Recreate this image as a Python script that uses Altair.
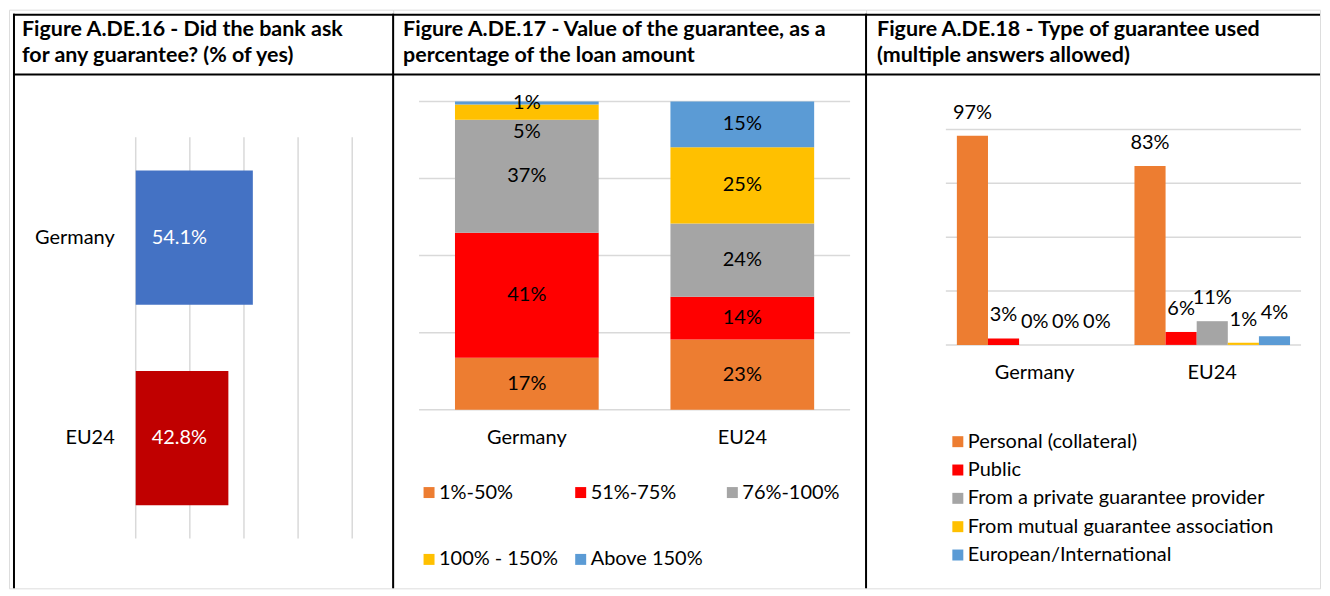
import altair as alt
import pandas as pd

FONT = "Lato"

# ---------------- data ----------------
titles_p1 = ["Figure A.DE.16 - Did the bank ask", "for any guarantee? (% of yes)"]
titles_p2 = ["Figure A.DE.17 - Value of the guarantee, as a", "percentage of the loan amount"]
titles_p3 = ["Figure A.DE.18 - Type of guarantee used", "(multiple answers allowed)"]

p1_countries = ["Germany", "EU24"]
p1_values = [54.1, 42.8]
p1_colors = ["#4472C4", "#C00000"]

p2_countries = ["Germany", "EU24"]
p2_bands = ["1%-50%", "51%-75%", "76%-100%", "100% - 150%", "Above 150%"]
p2_germany = [17, 41, 37, 5, 1]
p2_eu24 = [23, 14, 24, 25, 15]
p2_colors = ["#ED7D31", "#FF0000", "#A5A5A5", "#FFC000", "#5B9BD5"]

p3_countries = ["Germany", "EU24"]
p3_types = ["Personal (collateral)", "Public", "From a private guarantee provider",
            "From mutual guarantee association", "European/International"]
p3_germany = [97, 3, 0, 0, 0]
p3_eu24 = [83, 6, 11, 1, 4]
p3_colors = ["#ED7D31", "#FF0000", "#A5A5A5", "#FFC000", "#5B9BD5"]

grid_ticks = [0, 25, 50, 75, 100]

W1, W2, W3, H = 385, 474, 455, 580
GRID = "#D9D9D9"
FS = 20
TFS = 21.5

one = pd.DataFrame({"k": [0]})


def frame(width, xv, title_lines, tx):
    layers = [
        alt.Chart(one).mark_rule(color="black", strokeWidth=2).encode(
            x=alt.value(xv), y=alt.value(4), y2=alt.value(H)),
        alt.Chart(one).mark_rule(color="black", strokeWidth=2).encode(
            x=alt.value(xv - 1 if xv > 0 else 0), x2=alt.value(width), y=alt.value(5)),
        alt.Chart(one).mark_rule(color="black", strokeWidth=2).encode(
            x=alt.value(xv - 1 if xv > 0 else 0), x2=alt.value(width), y=alt.value(65)),
    ]
    for i, line in enumerate(title_lines):
        layers.append(
            alt.Chart(pd.DataFrame({"t": [line]})).mark_text(
                font=FONT, fontSize=TFS, fontWeight="bold", align="left",
                baseline="alphabetic", color="black").encode(
                x=alt.value(tx), y=alt.value(26.5 + 26 * i), text="t:N"))
    return layers


# ---------------- panel 1 ----------------
df1 = pd.DataFrame({"country": p1_countries, "value": p1_values, "color": p1_colors})
df1["label"] = [f"{v:.1f}%" for v in p1_values]
g1 = pd.DataFrame({"tick": grid_ticks})
x1 = alt.Scale(domain=[0, 100], range=[127, 344])
y1 = alt.Scale(domain=p1_countries, range=[128, 530], paddingInner=0.33, paddingOuter=0.165)

grid1 = alt.Chart(g1).mark_rule(color=GRID, strokeWidth=1.5).encode(
    x=alt.X("tick:Q", scale=x1, axis=None), y=alt.value(128), y2=alt.value(530))
bars1 = alt.Chart(df1).mark_bar().encode(
    x=alt.X("value:Q", scale=x1, axis=None),
    x2=alt.datum(0),
    y=alt.Y("country:N", scale=y1, axis=None),
    color=alt.Color("color:N", scale=None, legend=None))
vals1 = alt.Chart(df1).mark_text(font=FONT, fontSize=FS, color="white", align="left",
                                 baseline="middle", dx=16).encode(
    x=alt.datum(0), y=alt.Y("country:N", scale=y1, axis=None), text="label:N")
cats1 = alt.Chart(df1).mark_text(font=FONT, fontSize=FS, color="black", align="right",
                                 baseline="middle").encode(
    x=alt.value(106), y=alt.Y("country:N", scale=y1, axis=None), text="country:N")

panel1 = alt.layer(*frame(W1, 5, titles_p1, 13), grid1, bars1, vals1, cats1).properties(
    width=W1, height=H)

# ---------------- panel 2 ----------------
rows = []
for c, vals in zip(p2_countries, [p2_germany, p2_eu24]):
    tot = sum(vals)
    acc = 0
    for i, (b, v) in enumerate(zip(p2_bands, vals)):
        rows.append({"country": c, "band": b, "idx": i, "value": v,
                     "start": acc / tot, "end": (acc + v) / tot,
                     "mid": (acc + v / 2) / tot, "label": f"{v}%"})
        acc += v
df2 = pd.DataFrame(rows)
g2 = pd.DataFrame({"tick": [t / 100 for t in grid_ticks]})
x2s = alt.Scale(domain=p2_countries, range=[26, 458], paddingInner=0.333, paddingOuter=0.1667)
y2s = alt.Scale(domain=[0, 1], range=[401, 92])

grid2 = alt.Chart(g2).mark_rule(color=GRID, strokeWidth=1.5).encode(
    y=alt.Y("tick:Q", scale=y2s, axis=None), x=alt.value(26), x2=alt.value(458))
bars2 = alt.Chart(df2).mark_bar().encode(
    x=alt.X("country:N", scale=x2s, axis=None),
    y=alt.Y("start:Q", scale=y2s, axis=None),
    y2="end:Q",
    color=alt.Color("band:N", scale=alt.Scale(domain=p2_bands, range=p2_colors),
                    legend=alt.Legend(orient="none", legendX=26, legendY=474, columns=3,
                                      direction="horizontal",
                                      title=None, symbolType="square", symbolSize=121,
                                      symbolStrokeWidth=0, labelFont=FONT, labelFontSize=FS,
                                      labelColor="black", labelOffset=0, padding=0,
                                      gridAlign="all", columnPadding=12, rowPadding=47)))
txt2a = alt.Chart(df2).transform_filter(
    "!(datum.country == 'Germany' && datum.idx == 3)").mark_text(
    font=FONT, fontSize=FS, color="black", baseline="middle").encode(
    x=alt.X("country:N", scale=x2s, axis=None),
    y=alt.Y("mid:Q", scale=y2s, axis=None), text="label:N")
txt2b = alt.Chart(df2).transform_filter(
    "datum.country == 'Germany' && datum.idx == 3").mark_text(
    font=FONT, fontSize=FS, color="black", baseline="middle", dy=20).encode(
    x=alt.X("country:N", scale=x2s, axis=None),
    y=alt.Y("mid:Q", scale=y2s, axis=None), text="label:N")
cats2 = alt.Chart(pd.DataFrame({"country": p2_countries})).mark_text(
    font=FONT, fontSize=FS, color="black", baseline="middle").encode(
    x=alt.X("country:N", scale=x2s, axis=None), y=alt.value(429), text="country:N")

panel2 = alt.layer(*frame(W2, 0, titles_p2, 10), grid2, bars2, txt2a, txt2b, cats2).properties(
    width=W2, height=H)

# ---------------- panel 3 ----------------
rows = []
for c, vals in zip(p3_countries, [p3_germany, p3_eu24]):
    for i, (t, v) in enumerate(zip(p3_types, vals)):
        rows.append({"country": c, "type": t, "idx": i, "value": v, "label": f"{v}%"})
df3 = pd.DataFrame(rows)
g3 = pd.DataFrame({"tick": grid_ticks})
x3s = alt.Scale(domain=p3_countries, range=[80, 436], paddingInner=0.124, paddingOuter=0.062)
xo3 = alt.Scale(domain=p3_types, paddingInner=0, paddingOuter=0)
y3s = alt.Scale(domain=[0, 100], range=[336, 120])

grid3 = alt.Chart(g3).mark_rule(color=GRID, strokeWidth=1.5).encode(
    y=alt.Y("tick:Q", scale=y3s, axis=None), x=alt.value(80), x2=alt.value(436))
bars3 = alt.Chart(df3).mark_bar().encode(
    x=alt.X("country:N", scale=x3s, axis=None),
    xOffset=alt.XOffset("type:N", scale=xo3),
    y=alt.Y("value:Q", scale=y3s, axis=None),
    y2=alt.datum(0),
    color=alt.Color("type:N", scale=alt.Scale(domain=p3_types, range=p3_colors),
                    legend=alt.Legend(orient="none", legendX=82, legendY=423,
                                      title=None, symbolType="square", symbolSize=121,
                                      symbolStrokeWidth=0, labelFont=FONT, labelFontSize=FS,
                                      labelColor="black", labelOffset=0, padding=0,
                                      rowPadding=8.4, labelLimit=400)))
txt3 = alt.Chart(df3).mark_text(font=FONT, fontSize=FS, color="black", baseline="middle",
                                dy=-23).encode(
    x=alt.X("country:N", scale=x3s, axis=None),
    xOffset=alt.XOffset("type:N", scale=xo3),
    y=alt.Y("value:Q", scale=y3s, axis=None), text="label:N")
cats3 = alt.Chart(pd.DataFrame({"country": p3_countries})).mark_text(
    font=FONT, fontSize=FS, color="black", baseline="middle").encode(
    x=alt.X("country:N", scale=x3s, axis=None), y=alt.value(364), text="country:N")

panel3 = alt.layer(*frame(W3, 0, titles_p3, 11), grid3, bars3, txt3, cats3).properties(
    width=W3, height=H)

chart = alt.hconcat(panel1, panel2, panel3, spacing=0, bounds="flush").resolve_scale(
    x="independent", y="independent", color="independent", xOffset="independent"
).properties(padding=0).configure_view(stroke=None).configure(background="white")

chart.save("out.html", embed_options={"renderer": "svg", "actions": False})
